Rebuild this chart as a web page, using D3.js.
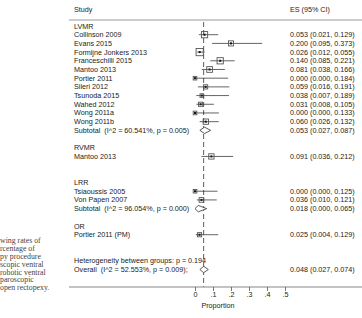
<!DOCTYPE html>
<html>
<head>
<meta charset="utf-8">
<script src="https://cdn.jsdelivr.net/npm/d3@7"></script>
<style>
  body { margin: 0; background: #fff; }
  svg { display: block; }
  text { white-space: pre; }
</style>
</head>
<body>
<svg id="chart" width="362" height="318"></svg>
<script>
// study labels, one per row (blank rows = "")
let labels = [
    "LVMR", "Collinson 2009", "Evans 2015", "Formijne Jonkers 2013", "Franceschilli 2015",
    "Mantoo 2013", "Portier 2011", "Sileri 2012", "Tsunoda 2015", "Wahed 2012",
    "Wong 2011a", "Wong 2011b", "Subtotal  (I^2 = 60.541%, p = 0.005)", "",
    "RVMR", "Mantoo 2013", "", "",
    "LRR", "Tsiaoussis 2005", "Von Papen 2007", "Subtotal  (I^2 = 96.054%, p = 0.000)", "",
    "OR", "Portier 2011 (PM)", "", "",
    "Heterogeneity between groups: p = 0.194", "Overall  (I^2 = 52.553%, p = 0.009);"
]
// row kind: h = group heading, s = study, d = pooled (diamond), n = nothing
let kinds = [
    "h", "s", "s", "s", "s", "s", "s", "s", "s", "s", "s", "s", "d", "n",
    "h", "s", "n", "n",
    "h", "s", "s", "d", "n",
    "h", "s", "n", "n",
    "n", "d"
]
let es = [null, 0.053, 0.200, 0.026, 0.140, 0.081, 0.000, 0.059, 0.038, 0.031, 0.000, 0.060, 0.053, null,
    null, 0.091, null, null,
    null, 0.000, 0.036, 0.018, null,
    null, 0.025, null, null,
    null, 0.048]
let lo = [null, 0.021, 0.095, 0.012, 0.085, 0.038, 0.000, 0.016, 0.007, 0.008, 0.000, 0.026, 0.027, null,
    null, 0.036, null, null,
    null, 0.000, 0.010, 0.000, null,
    null, 0.004, null, null,
    null, 0.027]
let hi = [null, 0.129, 0.373, 0.055, 0.221, 0.166, 0.184, 0.191, 0.189, 0.105, 0.133, 0.132, 0.087, null,
    null, 0.212, null, null,
    null, 0.125, 0.121, 0.065, null,
    null, 0.129, null, null,
    null, 0.074]
// study weights
let weights = [0, 9, 6, 12, 9, 7.5, 3, 4, 3, 4, 3, 6.5, 0, 0,
    0, 6.5, 0, 0,
    0, 3, 5, 0, 0,
    0, 4, 0, 0,
    0, 0]
let ticks = [0, 0.1, 0.2, 0.3, 0.4, 0.5]
let tickLabels = ["0", ".1", ".2", ".3", ".4", ".5"]
let overallES = 0.048

let svg = d3.select("#chart")
let font = "'Liberation Sans', Arial, Helvetica, sans-serif"
let fs = 7.2

let xScale = d3.scaleLinear().domain([0, 0.5]).range([195, 285])
let yScale = d3.scaleLinear().domain([0, 28]).range([26, 269.5])
let boxScale = d3.scaleSqrt().domain([0, 12]).range([0, 7.2])

let rows = labels.map(function (d, i) {
    return { label: d, kind: kinds[i], es: es[i], lo: lo[i], hi: hi[i], w: weights[i], i: i }
})

// headers
svg.append("text").attr("x", 74).attr("y", 9).attr("dy", "0.35em")
    .attr("font-family", font).attr("font-size", fs).attr("fill", "#222").text("Study")
svg.append("text").attr("x", 290).attr("y", 9).attr("dy", "0.35em")
    .attr("font-family", font).attr("font-size", fs).attr("fill", "#222").text("ES (95% CI)")

svg.append("line").attr("x1", 69).attr("x2", 362).attr("y1", 20).attr("y2", 20)
    .attr("stroke", "#999").attr("stroke-width", 1)

// overall dashed line
svg.append("line")
    .attr("x1", xScale(overallES)).attr("x2", xScale(overallES))
    .attr("y1", 22).attr("y2", 287)
    .attr("stroke", "#333").attr("stroke-width", 0.8)
    .attr("stroke-dasharray", "5,3")

// labels
svg.selectAll("text.lab")
    .data(rows.filter(d => d.label != ""))
    .enter()
    .append("text")
    .attr("class", "lab")
    .attr("x", 74)
    .attr("y", d => yScale(d.i))
    .attr("dy", "0.35em")
    .attr("font-family", font).attr("font-size", fs).attr("fill", "#222")
    .text(d => d.label)

// ES column
svg.selectAll("text.es")
    .data(rows.filter(d => d.es != null))
    .enter()
    .append("text")
    .attr("class", "es")
    .attr("x", 290)
    .attr("y", d => yScale(d.i))
    .attr("dy", "0.35em")
    .attr("font-family", font).attr("font-size", fs).attr("fill", "#222")
    .text(d => d3.format(".3f")(d.es) + " (" + d3.format(".3f")(d.lo) + ", " + d3.format(".3f")(d.hi) + ")")

let studies = rows.filter(d => d.kind == "s")

// CI lines
svg.selectAll("line.ci")
    .data(studies)
    .enter()
    .append("line")
    .attr("x1", d => xScale(d.lo)).attr("x2", d => xScale(d.hi))
    .attr("y1", d => yScale(d.i)).attr("y2", d => yScale(d.i))
    .attr("stroke", "#222").attr("stroke-width", 0.7)

// weight boxes
svg.selectAll("rect.box")
    .data(studies)
    .enter()
    .append("rect")
    .attr("x", d => xScale(d.es) - boxScale(d.w) / 2)
    .attr("y", d => yScale(d.i) - boxScale(d.w) / 2)
    .attr("width", d => boxScale(d.w))
    .attr("height", d => boxScale(d.w))
    .attr("fill", "none")
    .attr("stroke", "#555").attr("stroke-width", 0.9)

// point estimates
svg.selectAll("rect.pt")
    .data(studies)
    .enter()
    .append("rect")
    .attr("x", d => xScale(d.es) - 1)
    .attr("y", d => yScale(d.i) - 1)
    .attr("width", 2).attr("height", 2)
    .attr("fill", "#111")

// diamonds
svg.selectAll("path.dia")
    .data(rows.filter(d => d.kind == "d"))
    .enter()
    .append("path")
    .attr("d", function (d) {
        let y = yScale(d.i)
        return "M" + xScale(d.lo) + "," + y + "L" + xScale(d.es) + "," + (y - 3.2) +
            "L" + xScale(d.hi) + "," + y + "L" + xScale(d.es) + "," + (y + 3.2) + "Z"
    })
    .attr("fill", "#fff")
    .attr("stroke", "#333").attr("stroke-width", 0.8)

// axis
svg.append("line").attr("x1", 69).attr("x2", 362).attr("y1", 287).attr("y2", 287)
    .attr("stroke", "#888").attr("stroke-width", 1.2)
let axis = d3.axisBottom(xScale).tickValues(ticks).tickSize(4)
    .tickFormat((d, i) => tickLabels[i])
let axisG = svg.append("g").attr("transform", "translate(0,287)").call(axis)
axisG.select(".domain").remove()
axisG.selectAll(".tick line").attr("stroke", "#555").attr("stroke-width", 0.8)
axisG.selectAll(".tick text").attr("y", 5).attr("font-family", font).attr("font-size", fs).attr("fill", "#222")

svg.append("text").attr("x", 218).attr("y", 305).attr("dy", "0.35em")
    .attr("text-anchor", "middle")
    .attr("font-family", font).attr("font-size", fs).attr("fill", "#222").text("Proportion")

// caption fragment cut off at the left edge
let caption = ["wing rates of", "rcentage of", "py procedure", "scopic ventral", "robotic ventral", "paroscopic", "open rectopexy."]
svg.selectAll("text.cap")
    .data(caption)
    .enter()
    .append("text")
    .attr("x", 0)
    .attr("y", (d, i) => 240 + i * 7.95)
    .attr("dy", "0.35em")
    .attr("font-family", "'Liberation Serif', 'Times New Roman', serif")
    .attr("font-size", 7.8)
    .attr("fill", "#444")
    .text(d => d)
</script>
</body>
</html>
